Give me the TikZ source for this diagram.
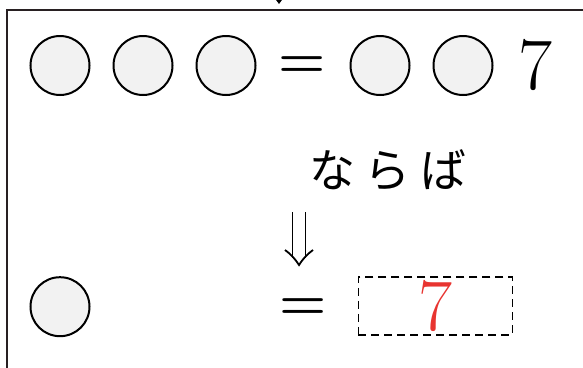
\documentclass[tikz,border=0pt]{standalone}
\usepackage{fontspec}
\newfontfamily\jpfont{Noto Sans CJK JP}
\usetikzlibrary{positioning,arrows.meta,calc}

\definecolor{ballgray}{RGB}{242,242,242}
\definecolor{answerred}{RGB}{232,52,48}
\definecolor{framegray}{RGB}{40,32,34}

\begin{document}
\begin{tikzpicture}[x=1pt, y=-1pt, node distance=22pt, thick]
	\tikzstyle{ball}=[circle, draw=black, line width=2pt, fill=ballgray, minimum size=59pt, inner sep=0pt]
	\tikzstyle{eqsign}=[inner sep=0pt, font=\fontsize{54}{58}\selectfont\bfseries, anchor=base]
	\tikzstyle{digit}=[inner sep=0pt, font=\fontsize{74}{80}\selectfont]
	\tikzstyle{answer}=[draw=black, dash pattern=on 8pt off 5pt, line width=1.4pt, minimum width=154pt, minimum height=58pt, inner sep=0pt, text=answerred, font=\fontsize{74}{80}\selectfont]
	\useasboundingbox (0,0) rectangle (583,367);
	% frame runs off the page to the right and below
	\coordinate (fbl) at (7,380);
	\coordinate (ftl) at (7,10);
	\coordinate (ftr) at (600,10);
	\draw[framegray, line width=2pt] (fbl) -- (ftl) -- (ftr);
	% tip of the arrow coming from above
	\coordinate (from) at (279,-12);
	\coordinate (into) at (279,4);
	\draw[-{Triangle[width=7pt,length=5pt]}] (from) -- (into);
	% top row
	\node[ball]   (a1) at (60,65.5) {};
	\node[ball]   (a2) [right = of a1] {};
	\node[ball]   (a3) [right = of a2] {};
	\node[eqsign] (e1) at (302.5,77.5) {=};
	\node[ball]   (b1) at (380,65.5) {};
	\node[ball]   (b2) [right = of b1] {};
	\node[digit]  (n1) at (535,65.5) {7};
	% middle
	\node[font=\jpfont\fontsize{46}{50}\selectfont] (if) at (388,170) {な\hspace{10pt}ら\hspace{10pt}ば};
	% double arrow under the condition
	\coordinate (imp) at (299,212);
	\coordinate (tip) at (299,265);
	\draw[line width=1.8pt] ($(imp)+(-6.5,0)$) -- ($(tip)+(-6.5,-7.5)$);
	\draw[line width=1.8pt] ($(imp)+(6.5,0)$) -- ($(tip)+(6.5,-7.5)$);
	\draw[line width=1.8pt, line join=miter] ($(tip)+(-14,-15)$) to[bend left=10] (tip) to[bend left=10] ($(tip)+(14,-15)$);
	% bottom row
	\node[ball]   (c1) at (60,306.7) {};
	\node[eqsign] (e2) at (303,319) {=};
	\node[answer] (ans) at (435.3,305.8) {7};
\end{tikzpicture}
\end{document}
